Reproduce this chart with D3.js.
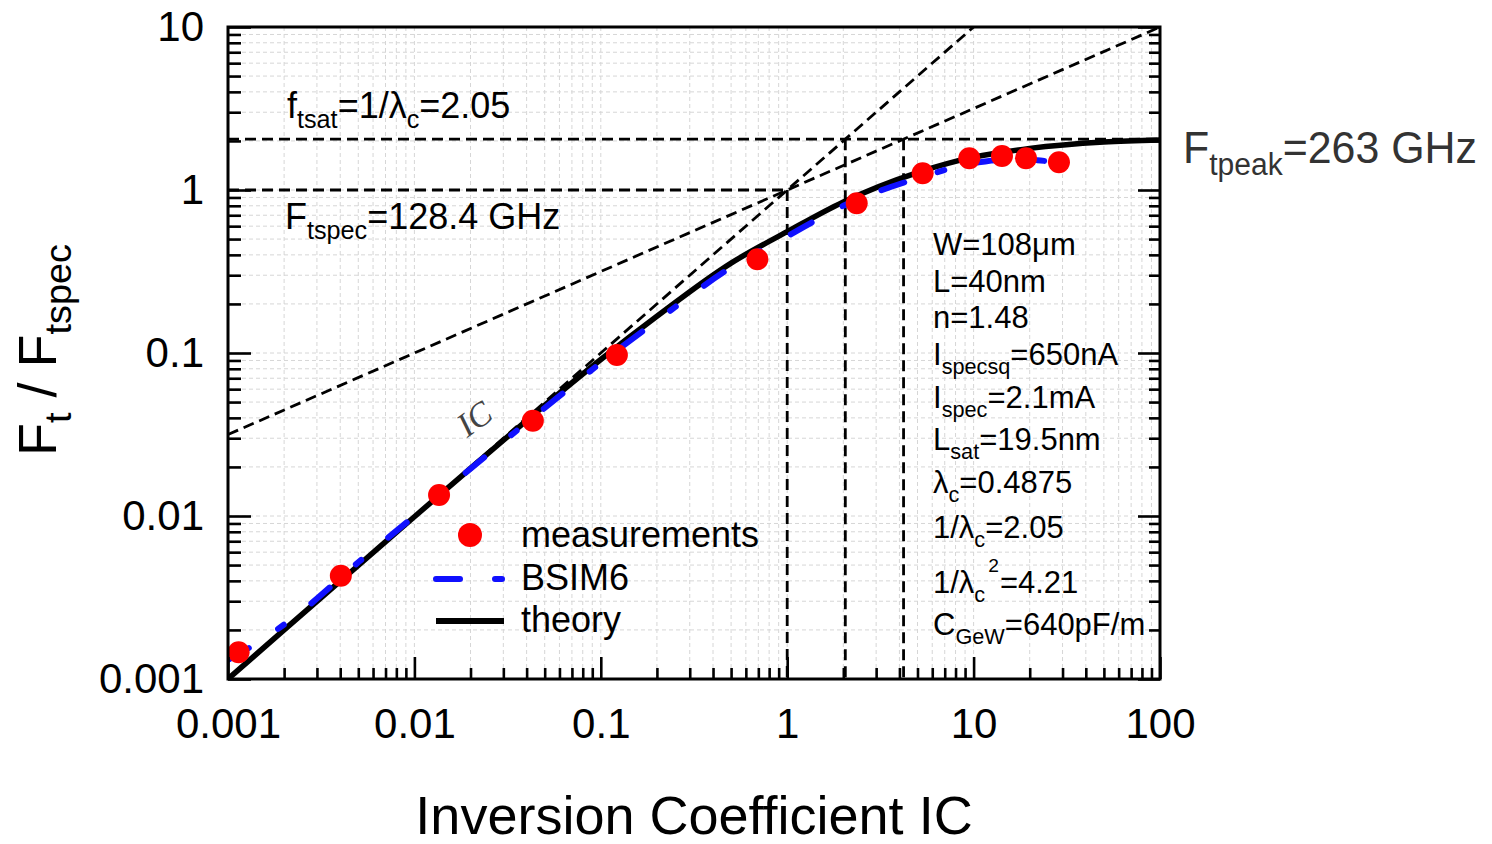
<!DOCTYPE html>
<html>
<head>
<meta charset="utf-8">
<script src="https://cdnjs.cloudflare.com/ajax/libs/d3/7.8.5/d3.min.js"></script>
<style>
  body { margin: 0; background: #fff; }
  svg { font-family: "Liberation Sans", Arial, sans-serif; }
</style>
</head>
<body>
<div id="chart"></div>
<script>
// ---- data ----
var xTickValues = [0.001, 0.01, 0.1, 1, 10, 100];
var xTickLabels = ["0.001", "0.01", "0.1", "1", "10", "100"];
var yTickValues = [0.001, 0.01, 0.1, 1, 10];
var yTickLabels = ["0.001", "0.01", "0.1", "1", "10"];

// measurements (red dots)
var measIC = [0.00114, 0.00403, 0.01356, 0.0432, 0.122, 0.692, 2.36, 5.33, 9.48, 14.2, 19.1, 28.7];
var measFt = [0.00146, 0.0043, 0.01345, 0.0384, 0.0972, 0.376, 0.829, 1.266, 1.565, 1.617, 1.565, 1.479];

// BSIM6 simulation (blue dashed)
var bsimIC = [0.001, 0.0015, 0.0025, 0.005, 0.01, 0.02, 0.05, 0.1, 0.2, 0.5, 1, 2, 5, 10, 14, 20, 28];
var bsimFt = [0.00131, 0.00172, 0.00262, 0.0052, 0.0100, 0.0195, 0.046, 0.087, 0.158, 0.335, 0.52, 0.80, 1.18, 1.46, 1.53, 1.53, 1.47];

// theory (black solid)
var theoryIC = [0.001, 0.002, 0.005, 0.01, 0.02, 0.05, 0.1, 0.2, 0.5, 1, 2, 5, 10, 20, 50, 100];
var theoryFt = [0.001, 0.002, 0.00497, 0.0099, 0.0196, 0.0477, 0.0912, 0.168, 0.356, 0.555, 0.845, 1.28, 1.59, 1.80, 1.97, 2.03];

// asymptotes and markers
var wiAsymIC = [0.02, 10];      // Ft = IC
var wiAsymFt = [0.02, 10];
var siAsymIC = [0.001, 100];    // Ft = sqrt(IC)
var siAsymFt = [0.0316, 10];
var ftSat = 2.05;
var icMarks = [1, 2.05, 4.21];
var icMarkTop = [1, 2.05, 2.05];

var width = 1492, height = 844;
var pLeft = 228, pRight = 1160, pTop = 27, pBottom = 679;

var svg = d3.select("#chart").append("svg")
    .attr("width", width)
    .attr("height", height);

var x = d3.scaleLog().domain([0.001, 100]).range([pLeft, pRight]);
var y = d3.scaleLog().domain([0.001, 10]).range([pBottom, pTop]);

svg.append("clipPath").attr("id", "plotclip")
    .append("rect")
    .attr("x", pLeft).attr("y", pTop)
    .attr("width", pRight - pLeft).attr("height", pBottom - pTop);

// grid (dashed light gray on every decade subdivision)
var grid = svg.append("g").attr("class", "grid");
grid.selectAll("line.gx").data(x.ticks()).enter().append("line")
    .attr("x1", function (d) { return x(d); })
    .attr("x2", function (d) { return x(d); })
    .attr("y1", pTop).attr("y2", pBottom);
grid.selectAll("line.gy").data(y.ticks()).enter().append("line")
    .attr("y1", function (d) { return y(d); })
    .attr("y2", function (d) { return y(d); })
    .attr("x1", pLeft).attr("x2", pRight);
grid.selectAll("line")
    .attr("stroke", "#d6d6d6")
    .attr("stroke-width", 1)
    .attr("stroke-dasharray", "4,3");

// reference dashed lines
var refs = svg.append("g")
    .attr("clip-path", "url(#plotclip)")
    .attr("stroke", "#000")
    .attr("stroke-width", 2.8)
    .attr("stroke-dasharray", "11,6")
    .attr("fill", "none");

refs.append("line")
    .attr("x1", x(0.001)).attr("x2", x(100))
    .attr("y1", y(ftSat)).attr("y2", y(ftSat));
refs.append("line")
    .attr("x1", x(0.001)).attr("x2", x(1))
    .attr("y1", y(1)).attr("y2", y(1));
icMarks.forEach(function (ic, i) {
    refs.append("line")
        .attr("x1", x(ic)).attr("x2", x(ic))
        .attr("y1", y(icMarkTop[i])).attr("y2", y(0.001));
});
refs.append("line")
    .attr("x1", x(wiAsymIC[0])).attr("y1", y(wiAsymFt[0]))
    .attr("x2", x(wiAsymIC[1])).attr("y2", y(wiAsymFt[1]));
refs.append("line")
    .attr("x1", x(siAsymIC[0])).attr("y1", y(siAsymFt[0]))
    .attr("x2", x(siAsymIC[1])).attr("y2", y(siAsymFt[1]));

// curves
var line = d3.line()
    .x(function (d) { return x(d[0]); })
    .y(function (d) { return y(d[1]); })
    .curve(d3.curveMonotoneX);

var curves = svg.append("g").attr("clip-path", "url(#plotclip)");

curves.append("path")
    .datum(d3.zip(theoryIC, theoryFt))
    .attr("d", line)
    .attr("fill", "none")
    .attr("stroke", "#000")
    .attr("stroke-width", 5.5);

curves.append("path")
    .datum(d3.zip(bsimIC, bsimFt))
    .attr("d", line)
    .attr("fill", "none")
    .attr("stroke", "#1010ff")
    .attr("stroke-width", 6)
    .attr("stroke-linecap", "round")
    .attr("stroke-dasharray", "24,35,7,35");

curves.selectAll("circle.meas")
    .data(d3.zip(measIC, measFt))
    .enter().append("circle")
    .attr("cx", function (d) { return x(d[0]); })
    .attr("cy", function (d) { return y(d[1]); })
    .attr("r", 11)
    .attr("fill", "#ff0000");

// axes: ticks pointing inside, labels outside
function styleAxis(g) {
    g.select(".domain").remove();
    g.selectAll(".tick line").attr("stroke", "#000").attr("stroke-width", 2.6);
    g.selectAll("text")
        .attr("font-size", 42)
        .attr("fill", "#000")
        .attr("font-family", "Liberation Sans, Arial, sans-serif");
}

var xMinor = x.ticks().filter(function (d) { return xTickValues.indexOf(d) < 0; });
var yMinor = y.ticks().filter(function (d) { return yTickValues.indexOf(d) < 0; });

svg.append("g")
    .attr("transform", `translate(0, ${pBottom})`)
    .call(d3.axisBottom(x).tickValues(xTickValues).tickSize(-22).tickPadding(29)
        .tickFormat(function (d, i) { return xTickLabels[i]; }))
    .call(styleAxis);
svg.append("g")
    .attr("transform", `translate(0, ${pBottom})`)
    .call(d3.axisBottom(x).tickValues(xMinor).tickSize(-11).tickFormat(""))
    .call(styleAxis);

svg.append("g")
    .attr("transform", `translate(${pLeft}, 0)`)
    .call(d3.axisLeft(y).tickValues(yTickValues).tickSize(-23).tickPadding(24)
        .tickFormat(function (d, i) { return yTickLabels[i]; }))
    .call(styleAxis);
svg.append("g")
    .attr("transform", `translate(${pLeft}, 0)`)
    .call(d3.axisLeft(y).tickValues(yMinor).tickSize(-13).tickFormat(""))
    .call(styleAxis);

svg.append("g")
    .attr("transform", `translate(${pRight}, 0)`)
    .call(d3.axisRight(y).tickValues(yTickValues).tickSize(-22).tickFormat(""))
    .call(styleAxis);
svg.append("g")
    .attr("transform", `translate(${pRight}, 0)`)
    .call(d3.axisRight(y).tickValues(yMinor).tickSize(-11).tickFormat(""))
    .call(styleAxis);

// frame
svg.append("rect")
    .attr("x", pLeft).attr("y", pTop)
    .attr("width", pRight - pLeft).attr("height", pBottom - pTop)
    .attr("fill", "none")
    .attr("stroke", "#000")
    .attr("stroke-width", 3);

// text with sub/superscripts
function rich(parent, px, py, parts, size, color) {
    var t = parent.append("text")
        .attr("x", px).attr("y", py)
        .attr("font-size", size)
        .attr("fill", color || "#000");
    var cur = 0;
    parts.forEach(function (p) {
        var off = 0, fs = size, txt = p, dx = 0;
        if (typeof p !== "string") {
            dx = p.dx || 0;
            if (p.sub !== undefined) { off = size * 0.28; fs = size * 0.7; txt = p.sub; }
            else if (p.sup !== undefined) { off = -size * 0.68; fs = size * 0.62; txt = p.sup; }
            else { txt = p.t; }
        }
        t.append("tspan")
            .attr("dy", off - cur)
            .attr("dx", dx)
            .attr("font-size", fs)
            .text(txt);
        cur = off;
    });
    return t;
}

rich(svg, 287, 118, ["f", {sub: "tsat"}, "=1/λ", {sub: "c"}, "=2.05"], 36);
rich(svg, 285, 229, ["F", {sub: "tspec"}, "=128.4 GHz"], 36);
rich(svg, 1183, 163, ["F", {sub: "tpeak"}, "=263 GHz"], 44, "#333")
    .attr("textLength", 294).attr("lengthAdjust", "spacingAndGlyphs");

var params = [
    ["W=108μm"],
    ["L=40nm"],
    ["n=1.48"],
    ["I", {sub: "specsq"}, "=650nA"],
    ["I", {sub: "spec"}, "=2.1mA"],
    ["L", {sub: "sat"}, "=19.5nm"],
    ["λ", {sub: "c"}, "=0.4875"],
    ["1/λ", {sub: "c"}, "=2.05"],
    ["1/λ", {sub: "c"}, {sup: "2", dx: 3}, {t: "=4.21", dx: 1}],
    ["C", {sub: "GeW"}, "=640pF/m"]
];
var paramY = [255, 292, 328, 365, 408, 450, 493, 538, 593, 635];
params.forEach(function (p, i) {
    rich(svg, 933, paramY[i], p, 31);
});

// IC label on the weak inversion asymptote
svg.append("text")
    .attr("transform", "translate(481, 428) rotate(-36)")
    .attr("text-anchor", "middle")
    .attr("font-family", "Liberation Serif, Times New Roman, serif")
    .attr("font-style", "italic")
    .attr("font-size", 34)
    .attr("fill", "#444")
    .text("IC");

// legend
var legend = svg.append("g");
legend.append("circle").attr("cx", 470).attr("cy", 535).attr("r", 12).attr("fill", "#ff0000");
legend.append("line")
    .attr("x1", 436).attr("x2", 504).attr("y1", 579).attr("y2", 579)
    .attr("stroke", "#1010ff").attr("stroke-width", 6)
    .attr("stroke-linecap", "round")
    .attr("stroke-dasharray", "24,35,7,35");
legend.append("line")
    .attr("x1", 436).attr("x2", 504).attr("y1", 621).attr("y2", 621)
    .attr("stroke", "#000").attr("stroke-width", 6);
var legendLabels = ["measurements", "BSIM6", "theory"];
var legendY = [547, 590, 632];
legendLabels.forEach(function (l, i) {
    legend.append("text")
        .attr("x", 521).attr("y", legendY[i])
        .attr("font-size", 36)
        .text(l);
});

// axis titles
svg.append("text")
    .attr("x", (pLeft + pRight) / 2).attr("y", 834)
    .attr("text-anchor", "middle")
    .attr("font-size", 54)
    .text("Inversion Coefficient IC");

var yTitle = svg.append("g").attr("transform", "translate(56, 350) rotate(-90)");
rich(yTitle, 0, 0, ["F", {sub: "t"}, " / F", {sub: "tspec"}], 54)
    .attr("text-anchor", "middle");
</script>
</body>
</html>
